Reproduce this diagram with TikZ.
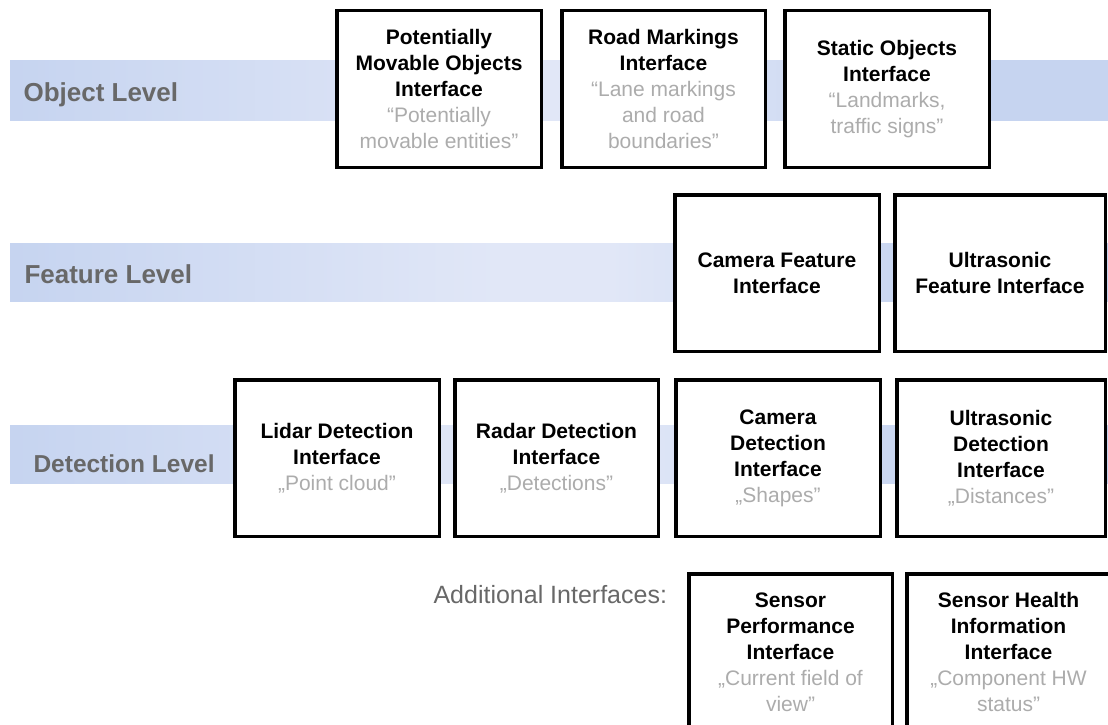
\documentclass[tikz,border=0pt]{standalone}
\usepackage{fontspec}
\setmainfont{Liberation Sans}
\definecolor{bandblue}{RGB}{198,212,240}
\definecolor{bandpale}{RGB}{225,231,247}
\definecolor{levelgray}{RGB}{104,104,104}
\definecolor{notegray}{RGB}{172,172,172}
\pgfdeclarehorizontalshading{bandshade}{100bp}{color(0bp)=(bandblue); color(25bp)=(bandblue); color(47bp)=(bandpale); color(52bp)=(bandpale); color(67bp)=(bandblue); color(100bp)=(bandblue)}
\newcommand\note[1]{{\mdseries\color{notegray}#1}}

\begin{document}
\begin{tikzpicture}[x=1pt,y=-1pt,
  iface/.style={draw,line width=3.5pt,fill=white,minimum width=#1,minimum height=156.5pt,inner sep=0pt,align=center,font=\fontsize{21}{26}\selectfont\bfseries},
  iface/.default=204.5pt,
  level/.style={anchor=base west,font=\fontsize{26}{30}\selectfont\bfseries,text=levelgray}]
  \clip (0,0) rectangle (1108,725);
  % level bands
  \shade[shading=bandshade] (10,61) rectangle (1120,120);
  \shade[shading=bandshade] (10,243) rectangle (1120,301);
  \shade[shading=bandshade] (10,425) rectangle (1120,483);
  \node[level] (objl) at (20,101) {Object Level};
  \node[level] (featl) at (21,283) {Feature Level};
  \node[level,font=\fontsize{24.5}{30}\selectfont\bfseries] (detl) at (30,472) {Detection Level};
  % object level
  \node[iface] (pmo) at (439,89) {Potentially\\Movable Objects\\Interface\\\note{“Potentially}\\\note{movable entities”}};
  \node[iface=203.5pt] (road) at (663.5,89) {Road Markings\\Interface\\\note{“Lane markings}\\\note{and road}\\\note{boundaries”}};
  \node[iface] (stat) at (887,89) {Static Objects\\Interface\\\note{“Landmarks,}\\\note{traffic signs”}};
  % feature level
  \node[iface] (camf) at (777,273) {Camera Feature\\Interface};
  \node[iface=210.5pt] (usf) at (1000,273) {Ultrasonic\\Feature Interface};
  % detection level
  \node[iface] (lid) at (337,458) {Lidar Detection\\Interface\\\note{„Point cloud”}};
  \node[iface=203.5pt] (rad) at (556.5,458) {Radar Detection\\Interface\\\note{„Detections”}};
  \node[iface] (camd) at (778,458) {Camera\\Detection\\Interface\\\note{„Shapes”}};
  \node[iface=208.5pt] (usd) at (1001,458) {Ultrasonic\\Detection\\Interface\\\note{„Distances”}};
  % additional
  \node[anchor=base west,font=\fontsize{25}{30}\selectfont,text=levelgray] (addl) at (430,603) {Additional Interfaces:};
  \node[iface=203.5pt] (perf) at (790.5,652) {Sensor\\Performance\\Interface\\\note{„Current field of}\\\note{view”}};
  \node[iface=203.5pt] (health) at (1008.5,652) {Sensor Health\\Information\\Interface\\\note{„Component HW}\\\note{status”}};
\end{tikzpicture}
\end{document}
